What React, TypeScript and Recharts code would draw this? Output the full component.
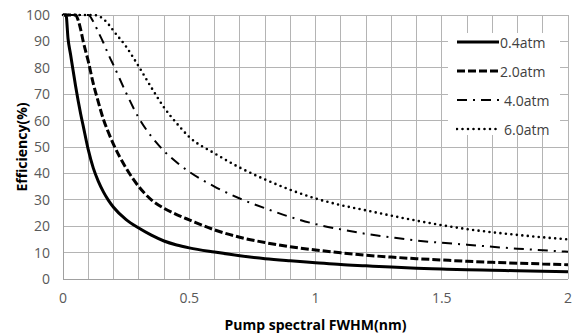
import { LineChart, Line, XAxis, YAxis, CartesianGrid, Label } from "recharts";

// pump spectral FWHM (nm)
const FWHM = [
  0, 0.012, 0.02, 0.03, 0.04, 0.05, 0.06, 0.07, 0.08, 0.1, 0.12, 0.14, 0.16, 0.18, 0.2,
  0.25, 0.3, 0.35, 0.4, 0.45, 0.5, 0.6, 0.7, 0.8, 0.9, 1.0, 1.1, 1.2, 1.3, 1.4, 1.5,
  1.6, 1.7, 1.8, 1.9, 2.0,
];

// efficiency (%) per buffer pressure
const EFF_04 = [
  100, 100, 91, 85, 79, 73, 67.5, 62.5, 58, 49, 42, 37, 33, 29.8, 27.2,
  22.5, 19.3, 16.6, 14.4, 12.9, 11.8, 10.2, 8.8, 7.7, 6.9, 6.2, 5.5, 5.0, 4.5, 4.1, 3.8,
  3.5, 3.3, 3.1, 2.9, 2.7,
];
const EFF_20 = [
  100, 100, 100, 100, 100, 100, 98, 94.5, 90, 82.5, 74, 67, 60.5, 55.5, 51,
  42, 35, 30, 26.8, 24.4, 22.4, 18.6, 15.8, 13.8, 12.2, 11, 9.9, 9.0, 8.3, 7.7, 7.2,
  6.7, 6.3, 6.0, 5.7, 5.4,
];
const EFF_40 = [
  100, 100, 100, 100, 100, 100, 100, 100, 100, 100, 97.5, 93.5, 89.5, 85, 81,
  70.5, 61, 54, 48.5, 44.2, 40.6, 35, 30.5, 26.8, 23.5, 20.8, 18.8, 17.1, 15.8, 14.6, 13.7,
  13.0, 12.2, 11.5, 10.9, 10.3,
];
const EFF_60 = [
  100, 100, 100, 100, 100, 100, 100, 100, 100, 100, 100, 99.6, 98.5, 96.5, 94,
  88, 80.5, 72.5, 65, 59, 53.8, 47.6, 42.2, 37.7, 33.8, 30.5, 28, 26, 24, 22.1, 20.4,
  18.9, 17.7, 16.7, 15.8, 15.0,
];

// labelled x ticks, and the minor positions that only carry grid lines
const X_LABELS = [0, 0.5, 1, 1.5, 2];
const X_GRID = [0, 0.1, 0.2, 0.3, 0.4, 0.5, 0.6, 0.7, 0.8, 0.9, 1, 1.1, 1.2, 1.3, 1.4, 1.5, 1.6, 1.7, 1.8, 1.9, 2];
const Y_TICKS = [0, 10, 20, 30, 40, 50, 60, 70, 80, 90, 100];

const SERIES = [
  { key: "p04", label: "0.4atm", width: 3, dash: undefined, cap: "butt" },
  { key: "p20", label: "2.0atm", width: 3, dash: "8 3", cap: "butt" },
  { key: "p40", label: "4.0atm", width: 2, dash: "10 6 2 6", cap: "butt" },
  { key: "p60", label: "6.0atm", width: 2.6, dash: "0 5.5", cap: "round" },
];

const data = FWHM.map((x, i) => ({
  x,
  p04: EFF_04[i],
  p20: EFF_20[i],
  p40: EFF_40[i],
  p60: EFF_60[i],
}));

const tickStyle = { fill: "#595959", fontSize: 14 };

const LegendBox = () => (
  <div
    style={{
      position: "absolute",
      left: 448,
      top: 33,
      background: "#fff",
      width: 112,
      height: 102,
      paddingLeft: 8,
      boxSizing: "border-box",
    }}
  >
    {SERIES.map((s, i) => (
      <div
        key={s.key}
        style={{ display: "flex", alignItems: "center", height: 18, marginTop: i === 0 ? 0 : 11 }}
      >
        <svg width={44} height={18}>
          <line
            x1={1}
            y1={9}
            x2={43}
            y2={9}
            stroke="#000"
            strokeWidth={s.width}
            strokeDasharray={s.dash}
            strokeLinecap={s.cap as any}
          />
        </svg>
        <span style={{ fontSize: 14, color: "#404040", marginLeft: i > 1 ? 4 : 0 }}>{s.label}</span>
      </div>
    ))}
  </div>
);

export default function App() {
  return (
    <div style={{ position: "absolute", left: 0, top: 0, width: 578, height: 336, fontFamily: "'Open Sans', sans-serif" }}>
      <LineChart width={578} height={336} data={data} margin={{ top: 15, right: 10, bottom: 7, left: 0 }}>
        <CartesianGrid stroke="#b4b4b4" strokeWidth={1} shapeRendering="crispEdges" />
        <XAxis
          dataKey="x"
          type="number"
          domain={[0, 2]}
          ticks={X_GRID}
          interval={0}
          tickFormatter={(v: number) => (X_LABELS.includes(v) ? String(v) : "")}
          height={50}
          tick={tickStyle}
          tickLine={false}
          tickMargin={8}
          axisLine={{ stroke: "#a0a0a0", shapeRendering: "crispEdges" }}
        >
          <Label
            content={({ viewBox }: any) => (
              <text
                x={viewBox.x + viewBox.width / 2}
                y={viewBox.y + 51}
                textAnchor="middle"
                fontWeight="bold"
                fontSize={14}
                fill="#000"
              >
                Pump spectral FWHM(nm)
              </text>
            )}
          />
        </XAxis>
        <YAxis
          type="number"
          domain={[0, 100]}
          ticks={Y_TICKS}
          interval={0}
          width={63}
          tick={tickStyle}
          tickLine={false}
          tickMargin={7}
          axisLine={{ stroke: "#a0a0a0", shapeRendering: "crispEdges" }}
        >
          <Label
            content={({ viewBox }: any) => {
              const cx = 27;
              const cy = viewBox.y + viewBox.height / 2;
              return (
                <text
                  x={cx}
                  y={cy}
                  transform={`rotate(-90 ${cx} ${cy})`}
                  textAnchor="middle"
                  fontWeight="bold"
                  fontSize={14}
                  fill="#000"
                >
                  Efficiency(%)
                </text>
              );
            }}
          />
        </YAxis>
        {SERIES.map((s) => (
          <Line
            key={s.key}
            type="monotone"
            dataKey={s.key}
            name={s.label}
            stroke="#000"
            strokeWidth={s.width}
            strokeDasharray={s.dash}
            strokeLinecap={s.cap as any}
            dot={false}
            activeDot={false}
            isAnimationActive={false}
          />
        ))}
      </LineChart>
      <LegendBox />
    </div>
  );
}
